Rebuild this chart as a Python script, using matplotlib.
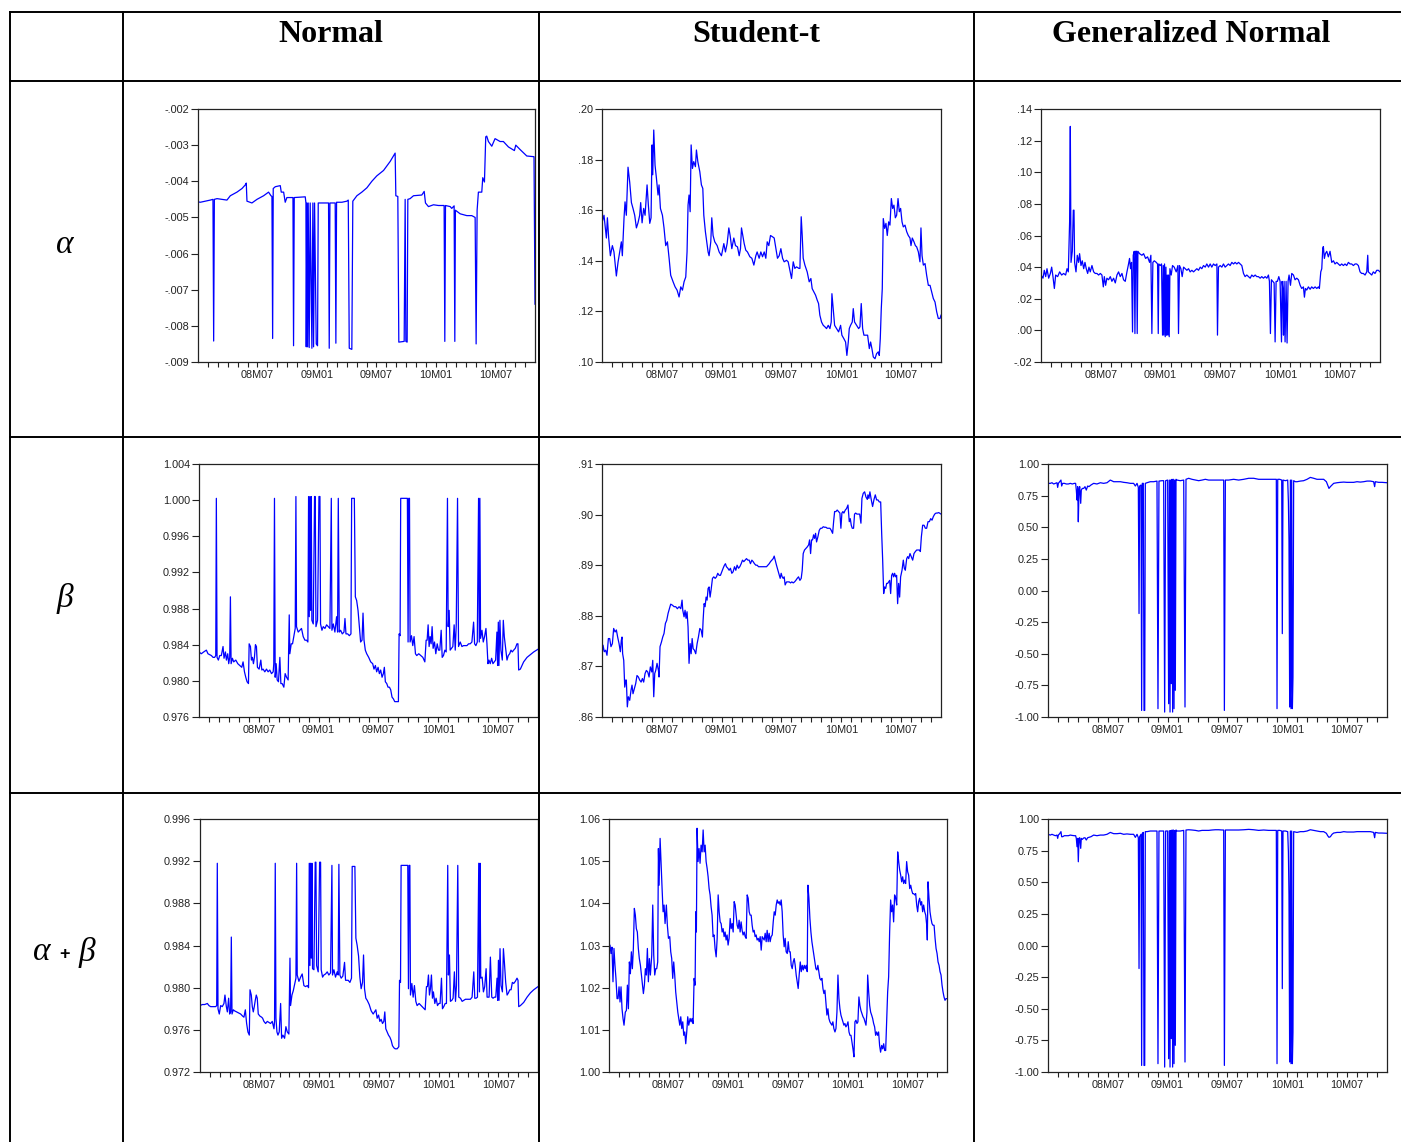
import numpy as np
import matplotlib
matplotlib.use("Agg")
import matplotlib.pyplot as plt
from matplotlib.lines import Line2D
from matplotlib.ticker import FixedLocator

plt.rcParams["font.family"] = ["Liberation Sans", "DejaVu Sans"]

# time axis: months since 2008M01 (tick labels at 08M07, 09M01, ...)
month_ticks = [6, 12, 18, 24, 30]
month_labels = ["08M07", "09M01", "09M07", "10M01", "10M07"]
col_titles = ["Normal", "Student-t", "Generalized Normal"]
row_titles = ["\u03b1", "\u03b2", "\u03b1 + \u03b2"]

# ---- Normal: alpha
norm_a_t = [0.00, 0.24, 0.74, 1.24, 1.51, 1.58, 1.65, 1.92, 2.42, 2.92,
            3.26, 3.93, 4.44, 4.77, 4.87, 4.94, 5.44, 5.95, 6.62, 7.12,
            7.36, 7.46, 7.53, 7.59, 7.80, 8.30, 8.40, 8.64, 8.80, 8.97,
            9.58, 9.64, 9.71, 10.82, 10.89, 10.92, 10.99, 11.06, 11.12, 11.22,
            11.32, 11.49, 11.59, 11.66, 11.76, 11.93, 12.06, 12.13, 13.17, 13.24,
            13.31, 13.84, 13.91, 13.98, 14.52, 15.02, 15.16, 15.26, 15.52, 15.62,
            16.03, 16.53, 17.04, 17.54, 18.04, 18.72, 19.39, 19.89, 19.96, 20.16,
            20.26, 20.80, 20.90, 20.97, 21.10, 21.17, 21.40, 21.74, 22.58, 22.82,
            22.95, 23.25, 23.76, 24.26, 24.83, 24.90, 24.97, 25.44, 25.60, 25.84,
            25.91, 25.97, 26.45, 27.12, 27.62, 27.96, 28.06, 28.16, 28.29, 28.63,
            28.73, 28.90, 29.03, 29.13, 29.30, 29.64, 29.97, 30.48, 30.81, 31.32,
            31.92, 32.06, 32.49, 33.17, 33.90, 34.00]
norm_a_v = [-.00457, -.00458, -.00455, -.00452, -.00450, -.00842, -.00450, -.00448, -.00450, -.00452,
            -.00440, -.00430, -.00420, -.00410, -.00405, -.00455, -.00460, -.00450, -.00440, -.00430,
            -.00440, -.00442, -.00835, -.00420, -.00415, -.00412, -.00430, -.00430, -.00458, -.00445,
            -.00445, -.00855, -.00445, -.00443, -.00460, -.00858, -.00460, -.00858, -.00460, -.00860,
            -.00460, -.00862, -.00460, -.00858, -.00460, -.00850, -.00855, -.00460, -.00460, -.00862,
            -.00460, -.00460, -.00848, -.00458, -.00458, -.00455, -.00452, -.00862, -.00865, -.00455,
            -.00440, -.00430, -.00418, -.00400, -.00385, -.00370, -.00345, -.00322, -.00440, -.00442,
            -.00845, -.00843, -.00450, -.00843, -.00845, -.00450, -.00448, -.00440, -.00438, -.00428,
            -.00460, -.00470, -.00465, -.00467, -.00467, -.00843, -.00467, -.00470, -.00475, -.00468,
            -.00843, -.00480, -.00490, -.00495, -.00495, -.00500, -.00850, -.00480, -.00430, -.00430,
            -.00390, -.00402, -.00277, -.00275, -.00290, -.00303, -.00282, -.00290, -.00290, -.00305,
            -.00315, -.00300, -.00312, -.00330, -.00332, -.00740]
norm_a_labels = ["-.009", "-.008", "-.007", "-.006", "-.005", "-.004", "-.003", "-.002"]

# ---- Student-t: alpha
stu_a_t = [0.00, 0.20, 0.33, 0.44, 0.54, 0.67, 0.84, 1.04, 1.20, 1.44,
           1.61, 1.77, 1.94, 2.04, 2.21, 2.31, 2.44, 2.61, 2.78, 2.95,
           3.11, 3.28, 3.45, 3.61, 3.78, 3.88, 4.02, 4.18, 4.32, 4.52,
           4.65, 4.79, 4.92, 5.02, 5.09, 5.19, 5.32, 5.46, 5.62, 5.72,
           5.86, 6.06, 6.22, 6.39, 6.56, 6.73, 6.89, 7.13, 7.33, 7.53,
           7.73, 7.90, 8.07, 8.23, 8.40, 8.53, 8.63, 8.73, 8.84, 8.94,
           9.07, 9.20, 9.37, 9.47, 9.61, 9.81, 9.97, 10.11, 10.21, 10.37,
           10.51, 10.64, 10.74, 10.91, 11.01, 11.14, 11.31, 11.55, 11.75, 11.98,
           12.22, 12.38, 12.55, 12.72, 12.85, 13.02, 13.22, 13.39, 13.59, 13.76,
           13.89, 13.99, 14.12, 14.26, 14.42, 14.59, 14.83, 15.03, 15.23, 15.43,
           15.56, 15.76, 15.93, 16.10, 16.27, 16.43, 16.57, 16.73, 16.90, 17.10,
           17.27, 17.44, 17.60, 17.77, 17.94, 18.11, 18.27, 18.51, 18.67, 18.84,
           19.01, 19.18, 19.34, 19.51, 19.75, 19.85, 19.98, 20.08, 20.18, 20.35,
           20.58, 20.78, 20.95, 21.08, 21.25, 21.42, 21.59, 21.72, 21.85, 22.02,
           22.19, 22.36, 22.52, 22.69, 22.86, 22.99, 23.06, 23.19, 23.33, 23.53,
           23.73, 23.93, 24.06, 24.26, 24.43, 24.56, 24.70, 24.80, 24.93, 25.10,
           25.20, 25.33, 25.54, 25.74, 25.87, 26.00, 26.14, 26.27, 26.47, 26.64,
           26.81, 26.94, 27.07, 27.21, 27.38, 27.54, 27.71, 27.81, 27.91, 28.01,
           28.11, 28.21, 28.35, 28.48, 28.61, 28.75, 28.88, 29.02, 29.15, 29.28,
           29.42, 29.55, 29.69, 29.82, 29.95, 30.09, 30.22, 30.39, 30.56, 30.72,
           30.89, 30.99, 31.12, 31.29, 31.43, 31.56, 31.73, 31.89, 31.99, 32.10,
           32.23, 32.40, 32.56, 32.73, 32.90, 33.07, 33.23, 33.40, 33.57, 33.73,
           33.90, 34.00]
stu_a_v = [.155, .158, .153, .149, .157, .149, .142, .146, .1435, .134,
           .1395, .1435, .1475, .142, .157, .1633, .158, .177, .171, .163,
           .1607, .158, .153, .155, .158, .163, .155, .1607, .158, .170,
           .162, .1548, .157, .1858, .174, .1917, .1778, .1726, .166, .170,
           .1607, .158, .153, .146, .1475, .141, .1343, .1317, .1297, .1284,
           .1257, .1297, .1284, .1317, .1336, .1435, .162, .166, .1594, .1858,
           .1765, .1792, .1772, .1838, .1792, .1752, .170, .1686, .158, .1515,
           .1475, .1435, .142, .1475, .157, .150, .1475, .146, .1435, .142,
           .1468, .1435, .1468, .153, .150, .1448, .149, .146, .1455, .142,
           .1448, .153, .150, .1468, .1442, .1435, .1416, .141, .1383, .142,
           .1435, .141, .1435, .1416, .1435, .141, .1475, .146, .150, .1495,
           .149, .1448, .141, .142, .1448, .141, .1396, .1402, .1396, .1363,
           .133, .1396, .137, .1376, .137, .137, .1574, .150, .141, .1383,
           .1356, .1317, .133, .129, .1277, .1264, .1244, .1231, .1185, .1158,
           .1145, .1139, .1132, .1145, .1132, .1158, .127, .1211, .1145, .1132,
           .1119, .1145, .1106, .1092, .1079, .1026, .1079, .1132, .1145, .1158,
           .1211, .1158, .1145, .1132, .1139, .1231, .1132, .1106, .1106, .1106,
           .1053, .1079, .1053, .102, .1013, .1033, .104, .1026, .1092, .1211,
           .129, .1567, .1528, .1548, .150, .1554, .1541, .1646, .1607, .162,
           .157, .158, .1646, .1594, .1607, .1554, .1534, .1541, .1515, .150,
           .149, .146, .149, .1475, .146, .1455, .1435, .1396, .153, .142,
           .1383, .1389, .1343, .1303, .1303, .1277, .1251, .1237, .1198, .1172,
           .1172, .1185]
stu_a_labels = [".10", ".12", ".14", ".16", ".18", ".20"]

# ---- Generalized Normal: alpha
gn_a_t = [0.00, 0.20, 0.33, 0.47, 0.60, 0.77, 0.94, 1.07, 1.20, 1.34,
          1.47, 1.67, 1.87, 2.07, 2.27, 2.47, 2.61, 2.74, 2.87, 2.94,
          3.01, 3.14, 3.24, 3.31, 3.37, 3.51, 3.64, 3.77, 3.87, 4.01,
          4.14, 4.28, 4.41, 4.54, 4.68, 4.81, 4.94, 5.11, 5.28, 5.44,
          5.61, 5.78, 5.95, 6.11, 6.25, 6.35, 6.48, 6.61, 6.78, 6.95,
          7.11, 7.28, 7.45, 7.62, 7.78, 7.95, 8.12, 8.28, 8.45, 8.62,
          8.78, 8.88, 8.98, 9.08, 9.18, 9.25, 9.35, 9.42, 9.49, 9.59,
          9.65, 9.72, 9.89, 10.12, 10.29, 10.49, 10.69, 10.89, 11.02, 11.12,
          11.22, 11.36, 11.56, 11.69, 11.76, 11.82, 11.96, 12.09, 12.19, 12.26,
          12.32, 12.39, 12.46, 12.53, 12.59, 12.66, 12.73, 12.79, 12.86, 12.93,
          13.06, 13.19, 13.36, 13.56, 13.73, 13.79, 13.89, 14.03, 14.16, 14.30,
          14.46, 14.63, 14.80, 14.96, 15.13, 15.30, 15.46, 15.63, 15.80, 15.97,
          16.13, 16.30, 16.47, 16.63, 16.80, 16.97, 17.13, 17.30, 17.47, 17.64,
          17.70, 17.80, 17.97, 18.14, 18.30, 18.47, 18.64, 18.80, 18.97, 19.14,
          19.31, 19.47, 19.64, 19.81, 19.97, 20.14, 20.31, 20.47, 20.64, 20.81,
          20.98, 21.14, 21.31, 21.48, 21.64, 21.81, 21.98, 22.14, 22.31, 22.48,
          22.65, 22.81, 22.91, 23.01, 23.11, 23.25, 23.38, 23.48, 23.58, 23.71,
          23.85, 23.98, 24.12, 24.18, 24.25, 24.32, 24.38, 24.48, 24.58, 24.68,
          24.78, 24.88, 25.02, 25.15, 25.32, 25.48, 25.65, 25.82, 25.99, 26.15,
          26.32, 26.42, 26.52, 26.65, 26.82, 26.99, 27.15, 27.32, 27.49, 27.66,
          27.82, 27.92, 28.06, 28.16, 28.26, 28.32, 28.42, 28.52, 28.66, 28.82,
          28.99, 29.16, 29.33, 29.49, 29.66, 29.83, 29.99, 30.16, 30.33, 30.49,
          30.66, 30.83, 31.00, 31.16, 31.33, 31.50, 31.66, 31.83, 32.00, 32.16,
          32.33, 32.50, 32.67, 32.77, 32.83, 33.00, 33.17, 33.33, 33.50, 33.67,
          33.83, 34.00]
gn_a_v = [.035, .033, .038, .034, .039, .033, .036, .040, .034, .0265,
          .035, .034, .037, .035, .036, .035, .039, .037, .0687, .129,
          .043, .050, .076, .076, .043, .037, .0475, .043, .0485, .041,
          .044, .039, .043, .039, .036, .040, .037, .041, .037, .036,
          .036, .035, .036, .035, .0275, .034, .0285, .033, .032, .034,
          .031, .033, .030, .035, .037, .034, .036, .032, .031, .037,
          .042, .0455, .039, .043, -.001, .0475, .050, -.002, .050, .050,
          -.002, .050, .0485, .0475, .0485, .0455, .0465, .043, .0475, -.002,
          .043, .044, .043, .042, -.002, .042, .041, .042, -.003, .041,
          -.003, .042, -.004, .040, -.003, .035, -.003, .035, -.004, .039,
          .035, .041, .040, .037, .041, -.002, .041, .039, .034, .040,
          .039, .038, .039, .037, .038, .037, .038, .039, .038, .040,
          .039, .041, .040, .042, .040, .042, .040, .042, .041, .042,
          -.003, .040, .041, .040, .042, .040, .041, .042, .041, .043,
          .042, .043, .042, .043, .042, .041, .036, .034, .035, .034,
          .033, .035, .034, .035, .034, .034, .033, .034, .033, .034,
          .033, .035, .031, -.002, .032, .031, .030, -.0073, .031, .031,
          .034, .031, -.0073, .031, .0265, -.003, .031, -.0073, .031, -.008,
          .031, .035, .0285, .036, .035, .032, .033, .032, .0285, .0265,
          .0275, .021, .0265, .0255, .0275, .026, .0275, .0265, .0275, .0265,
          .0275, .0265, .037, .039, .052, .053, .0455, .0485, .050, .0465,
          .050, .043, .044, .042, .043, .042, .041, .042, .041, .042,
          .041, .043, .042, .042, .041, .042, .042, .041, .037, .036,
          .036, .035, .037, .0475, .037, .036, .035, .037, .036, .038,
          .038, .037]
gn_a_labels = ["-.02", ".00", ".02", ".04", ".06", ".08", ".10", ".12", ".14"]

# ---- Normal: beta and alpha + beta (same dates)
norm_b_t = [0.00, 0.23, 0.47, 0.74, 0.90, 1.07, 1.24, 1.41, 1.57, 1.68,
            1.74, 1.81, 1.94, 2.08, 2.24, 2.41, 2.51, 2.65, 2.75, 2.88,
            2.98, 3.08, 3.15, 3.22, 3.35, 3.48, 3.69, 3.89, 4.09, 4.29,
            4.42, 4.56, 4.69, 4.82, 4.96, 5.03, 5.16, 5.26, 5.36, 5.46,
            5.56, 5.66, 5.76, 5.86, 6.03, 6.20, 6.30, 6.43, 6.60, 6.77,
            6.93, 7.10, 7.27, 7.44, 7.50, 7.57, 7.64, 7.74, 7.84, 7.97,
            8.11, 8.21, 8.34, 8.51, 8.64, 8.78, 8.94, 9.05, 9.11, 9.25,
            9.38, 9.51, 9.65, 9.72, 9.78, 9.95, 10.12, 10.28, 10.45, 10.62,
            10.79, 10.92, 10.99, 11.06, 11.12, 11.19, 11.26, 11.32, 11.46, 11.59,
            11.66, 11.73, 11.89, 12.03, 12.13, 12.19, 12.33, 12.46, 12.63, 12.80,
            12.96, 13.13, 13.27, 13.33, 13.47, 13.63, 13.80, 13.90, 13.97, 14.07,
            14.20, 14.37, 14.54, 14.64, 14.74, 14.91, 15.08, 15.24, 15.31, 15.58,
            15.68, 15.81, 15.95, 16.08, 16.21, 16.35, 16.45, 16.55, 16.68, 16.82,
            17.02, 17.22, 17.42, 17.55, 17.69, 17.82, 17.96, 18.09, 18.22, 18.36,
            18.49, 18.59, 18.69, 18.83, 18.96, 19.10, 19.23, 19.36, 19.50, 19.63,
            19.83, 20.00, 20.07, 20.17, 20.23, 20.90, 20.97, 21.04, 21.11, 21.17,
            21.31, 21.44, 21.57, 21.71, 21.84, 22.04, 22.24, 22.45, 22.65, 22.78,
            22.88, 22.98, 23.08, 23.18, 23.28, 23.38, 23.48, 23.62, 23.75, 23.89,
            24.02, 24.15, 24.29, 24.39, 24.52, 24.66, 24.79, 24.92, 24.99, 25.09,
            25.19, 25.33, 25.46, 25.59, 25.70, 25.80, 25.93, 26.03, 26.20, 26.37,
            26.53, 26.70, 26.87, 27.04, 27.20, 27.37, 27.54, 27.64, 27.77, 27.91,
            28.04, 28.11, 28.17, 28.24, 28.38, 28.51, 28.64, 28.78, 28.88, 28.98,
            29.08, 29.21, 29.35, 29.48, 29.61, 29.75, 29.88, 29.95, 30.02, 30.08,
            30.18, 30.28, 30.42, 30.52, 30.62, 30.75, 30.89, 31.02, 31.16, 31.29,
            31.42, 31.56, 31.72, 31.89, 31.99, 32.06, 32.23, 32.56, 32.90, 33.23,
            33.57, 34.00]
norm_b_v = [.9832, .9830, .9832, .9834, .9830, .9829, .9828, .9826, .9826, .9828,
            1.0002, .9826, .9823, .9828, .9828, .9838, .9825, .9832, .9823, .9830,
            .9819, .9826, .9893, .9819, .9825, .9821, .9823, .9819, .9817, .9815,
            .9821, .9810, .9804, .9799, .9797, .9841, .9838, .9823, .9826, .9819,
            .9826, .9840, .9838, .9815, .9813, .9823, .9812, .9813, .9810, .9813,
            .9810, .9812, .9808, .9810, .9819, 1.0002, .9804, .9819, .9801, .9799,
            .9826, .9797, .9797, .9793, .9808, .9804, .9801, .9873, .9830, .9841,
            .9841, .9849, .9858, 1.0004, .9860, .9854, .9856, .9858, .9849, .9845,
            .9845, .9843, 1.0004, .9871, 1.0004, .9878, 1.0004, .9867, .9863, 1.0004,
            1.0004, .9860, .9867, 1.0004, 1.0004, .9863, .9856, .9860, .9858, .9862,
            .9860, .9858, 1.0002, .9856, .9863, .9854, .9871, .9854, 1.0002, .9854,
            .9856, .9852, .9854, .9869, .9852, .9852, .9850, .9852, 1.0002, 1.0002,
            .9893, .9889, .9878, .9860, .9843, .9845, .9875, .9845, .9834, .9830,
            .9826, .9821, .9819, .9813, .9817, .9810, .9815, .9808, .9812, .9804,
            .9808, .9815, .9799, .9797, .9793, .9793, .9790, .9782, .9780, .9777,
            .9777, .9777, .9852, .9850, 1.0002, 1.0002, .9843, 1.0002, 1.0002, .9843,
            .9850, .9839, .9849, .9830, .9828, .9830, .9828, .9826, .9821, .9845,
            .9845, .9862, .9838, .9849, .9841, .9860, .9836, .9843, .9830, .9841,
            .9834, .9834, .9856, .9826, .9828, .9834, .9832, 1.0002, .9860, .9878,
            .9834, .9836, .9838, .9862, .9834, .9862, 1.0002, .9838, .9843, .9838,
            .9839, .9839, .9839, .9841, .9841, .9843, .9865, .9841, .9839, .9843,
            1.0002, .9843, 1.0002, .9847, .9856, .9843, .9849, .9858, .9841, .9819,
            .9823, .9819, .9825, .9819, .9821, .9823, .9854, .9817, .9865, .9817,
            .9867, .9834, .9823, .9867, .9849, .9836, .9823, .9828, .9830, .9834,
            .9832, .9834, .9836, .9841, .9841, .9812, .9813, .9821, .9826, .9829,
            .9832, .9835]
norm_ab_v = [.9783, .9784, .9784, .9785, .9783, .9782, .9782, .9782, .9782, .9783,
             .9918, .9780, .9775, .9783, .9782, .9785, .9793, .9782, .9777, .9790,
             .9775, .9777, .9848, .9775, .9779, .9778, .9777, .9776, .9775, .9773,
             .9772, .9779, .9766, .9758, .9755, .9798, .9793, .9782, .9777, .9782,
             .9788, .9793, .9790, .9775, .9773, .9772, .9771, .9768, .9766, .9768,
             .9767, .9766, .9768, .9761, .9768, .9918, .9771, .9758, .9755, .9758,
             .9785, .9752, .9755, .9752, .9763, .9758, .9756, .9828, .9783, .9793,
             .9797, .9803, .9809, .9918, .9812, .9806, .9810, .9813, .9802, .9801,
             .9802, .9800, .9918, .9821, .9918, .9828, .9918, .9818, .9817, .9919,
             .9919, .9821, .9815, .9919, .9919, .9817, .9810, .9812, .9813, .9815,
             .9812, .9814, .9916, .9812, .9817, .9810, .9815, .9812, .9917, .9812,
             .9809, .9811, .9824, .9807, .9807, .9807, .9805, .9809, .9915, .9915,
             .9847, .9840, .9830, .9810, .9799, .9805, .9831, .9799, .9790, .9788,
             .9784, .9778, .9775, .9777, .9779, .9771, .9774, .9768, .9770, .9766,
             .9768, .9777, .9761, .9758, .9755, .9753, .9750, .9745, .9743, .9742,
             .9742, .9744, .9807, .9805, .9916, .9916, .9799, .9916, .9916, .9793,
             .9804, .9791, .9802, .9787, .9783, .9785, .9783, .9781, .9779, .9801,
             .9801, .9812, .9793, .9799, .9812, .9790, .9796, .9785, .9790, .9783,
             .9785, .9785, .9809, .9780, .9782, .9785, .9785, .9916, .9812, .9831,
             .9787, .9788, .9790, .9815, .9787, .9802, .9916, .9791, .9790, .9787,
             .9788, .9789, .9789, .9789, .9789, .9791, .9815, .9790, .9790, .9791,
             .9918, .9796, .9918, .9809, .9810, .9796, .9801, .9818, .9791, .9791,
             .9791, .9829, .9791, .9790, .9791, .9791, .9809, .9788, .9826, .9788,
             .9837, .9802, .9796, .9837, .9824, .9805, .9793, .9795, .9798, .9798,
             .9805, .9804, .9806, .9809, .9807, .9782, .9783, .9786, .9791, .9795,
             .9798, .9801]
norm_b_labels = ["0.976", "0.980", "0.984", "0.988", "0.992", "0.996", "1.000", "1.004"]
norm_ab_labels = ["0.972", "0.976", "0.980", "0.984", "0.988", "0.992", "0.996"]

# ---- Student-t: beta
stu_b_t = [0.00, 0.10, 0.23, 0.37, 0.50, 0.64, 0.77, 0.90, 1.04, 1.17,
           1.31, 1.44, 1.57, 1.71, 1.84, 1.94, 2.01, 2.07, 2.18, 2.28,
           2.38, 2.44, 2.54, 2.64, 2.78, 2.91, 3.01, 3.11, 3.25, 3.38,
           3.51, 3.65, 3.78, 3.92, 4.05, 4.18, 4.32, 4.45, 4.59, 4.72,
           4.85, 4.99, 5.09, 5.19, 5.29, 5.39, 5.52, 5.66, 5.72, 5.82,
           5.96, 6.09, 6.22, 6.36, 6.49, 6.63, 6.76, 6.89, 7.06, 7.23,
           7.40, 7.56, 7.73, 7.90, 8.03, 8.10, 8.23, 8.33, 8.43, 8.53,
           8.63, 8.73, 8.84, 8.94, 9.04, 9.14, 9.27, 9.40, 9.54, 9.67,
           9.81, 9.94, 10.07, 10.14, 10.24, 10.34, 10.44, 10.54, 10.64, 10.74,
           10.84, 10.94, 11.08, 11.21, 11.35, 11.48, 11.61, 11.75, 11.88, 12.01,
           12.15, 12.28, 12.38, 12.48, 12.62, 12.75, 12.88, 13.02, 13.15, 13.29,
           13.42, 13.55, 13.69, 13.82, 13.96, 14.09, 14.22, 14.36, 14.49, 14.63,
           14.76, 14.89, 15.03, 15.16, 15.29, 15.43, 15.56, 15.70, 15.83, 15.96,
           16.10, 16.23, 16.37, 16.50, 16.63, 16.77, 16.90, 17.04, 17.17, 17.27,
           17.37, 17.50, 17.64, 17.77, 17.87, 17.97, 18.07, 18.17, 18.27, 18.37,
           18.51, 18.64, 18.78, 18.91, 19.04, 19.18, 19.31, 19.44, 19.58, 19.71,
           19.85, 19.98, 20.08, 20.18, 20.31, 20.45, 20.58, 20.72, 20.82, 20.92,
           21.02, 21.12, 21.22, 21.32, 21.42, 21.52, 21.65, 21.79, 21.92, 22.05,
           22.19, 22.32, 22.46, 22.59, 22.72, 22.86, 22.99, 23.13, 23.23, 23.33,
           23.46, 23.59, 23.73, 23.86, 23.96, 24.06, 24.16, 24.26, 24.40, 24.53,
           24.67, 24.73, 24.80, 24.90, 25.00, 25.10, 25.23, 25.33, 25.44, 25.57,
           25.70, 25.84, 25.97, 26.07, 26.20, 26.34, 26.47, 26.61, 26.67, 26.77,
           26.87, 27.01, 27.14, 27.28, 27.41, 27.54, 27.68, 27.81, 27.95, 28.05,
           28.15, 28.25, 28.35, 28.45, 28.55, 28.65, 28.75, 28.85, 28.95, 29.05,
           29.15, 29.25, 29.35, 29.45, 29.55, 29.65, 29.75, 29.85, 29.95, 30.09,
           30.22, 30.32, 30.42, 30.56, 30.66, 30.76, 30.89, 31.02, 31.16, 31.29,
           31.43, 31.56, 31.69, 31.83, 31.93, 32.03, 32.16, 32.30, 32.43, 32.56,
           32.70, 32.83, 32.97, 33.10, 33.23, 33.37, 33.50, 33.63, 33.77, 34.00]
stu_b_v = [.8719, .8742, .8729, .8732, .8722, .8755, .8755, .8739, .8745, .8775,
           .8768, .8772, .8758, .8745, .8729, .8752, .8758, .8725, .8712, .8659,
           .8673, .8673, .8620, .8640, .8633, .8653, .8663, .8646, .8656, .8666,
           .8682, .8679, .8673, .8669, .8676, .8669, .8686, .8692, .8689, .8679,
           .8699, .8689, .8712, .8640, .8686, .8692, .8706, .8692, .8679, .8739,
           .8748, .8758, .8765, .8785, .8791, .8805, .8814, .8823, .8821, .8818,
           .8818, .8814, .8818, .8814, .8831, .8811, .8798, .8811, .8795, .8808,
           .8778, .8706, .8745, .8725, .8755, .8735, .8732, .8725, .8745, .8758,
           .8775, .8772, .8758, .8791, .8824, .8818, .8837, .8831, .8854, .8857,
           .8837, .8851, .8874, .8877, .8874, .8877, .8884, .8880, .8880, .8887,
           .8894, .8900, .8903, .8897, .8894, .8890, .8894, .8884, .8887, .8897,
           .8890, .8900, .8894, .8897, .8903, .8910, .8907, .8910, .8913, .8910,
           .8910, .8903, .8910, .8907, .8903, .8900, .8900, .8897, .8897, .8897,
           .8897, .8897, .8897, .8897, .8900, .8903, .8907, .8910, .8913, .8918,
           .8910, .8900, .8890, .8880, .8874, .8884, .8877, .8874, .8877, .8861,
           .8867, .8867, .8867, .8865, .8867, .8865, .8867, .8870, .8874, .8877,
           .8870, .8874, .8890, .8923, .8930, .8933, .8936, .8940, .8950, .8923,
           .8950, .8950, .8960, .8953, .8963, .8946, .8956, .8969, .8973, .8973,
           .8976, .8975, .8975, .8973, .8973, .8973, .8969, .8963, .8986, .9006,
           .9006, .9009, .9006, .9003, .8973, .9003, .9006, .9003, .9009, .9012,
           .9019, .9003, .8986, .8992, .8979, .8973, .8973, .9001, .9003, .9001,
           .9001, .9001, .8983, .9032, .9042, .9045, .9035, .9030, .9039, .9032,
           .9045, .9029, .9016, .9030, .9039, .9029, .9029, .9025, .9025, .8963,
           .8910, .8844, .8857, .8854, .8864, .8864, .8867, .8870, .8844, .8880,
           .8884, .8877, .8884, .8877, .8880, .8824, .8864, .8837, .8877, .8890,
           .8910, .8894, .8890, .8913, .8917, .8913, .8923, .8917, .8910, .8923,
           .8927, .8930, .8930, .8930, .8927, .8956, .8979, .8979, .8973, .8973,
           .8986, .8986, .8992, .8989, .8996, .9001, .9003, .9003, .9004, .9001]
stu_b_labels = [".86", ".87", ".88", ".89", ".90", ".91"]

# ---- Student-t: alpha + beta
stu_ab_t = [0.00, 0.10, 0.20, 0.30, 0.40, 0.50, 0.60, 0.70, 0.81, 0.91,
            1.01, 1.11, 1.21, 1.31, 1.41, 1.51, 1.64, 1.75, 1.85, 1.95,
            2.05, 2.15, 2.25, 2.35, 2.45, 2.55, 2.65, 2.75, 2.85, 2.95,
            3.05, 3.16, 3.26, 3.36, 3.46, 3.56, 3.66, 3.76, 3.86, 3.96,
            4.06, 4.16, 4.30, 4.40, 4.50, 4.60, 4.70, 4.80, 4.90, 4.97,
            5.04, 5.14, 5.24, 5.34, 5.44, 5.54, 5.64, 5.77, 5.87, 5.98,
            6.11, 6.21, 6.31, 6.41, 6.51, 6.61, 6.71, 6.81, 6.92, 7.02,
            7.12, 7.22, 7.32, 7.42, 7.52, 7.62, 7.72, 7.82, 7.92, 8.02,
            8.16, 8.26, 8.36, 8.46, 8.56, 8.66, 8.73, 8.79, 8.86, 8.96,
            9.06, 9.16, 9.26, 9.37, 9.47, 9.57, 9.67, 9.77, 9.87, 9.97,
            10.07, 10.17, 10.27, 10.37, 10.47, 10.57, 10.67, 10.78, 10.88, 10.98,
            11.08, 11.18, 11.28, 11.38, 11.48, 11.58, 11.68, 11.78, 11.88, 11.98,
            12.08, 12.19, 12.29, 12.39, 12.49, 12.59, 12.69, 12.79, 12.89, 12.99,
            13.09, 13.19, 13.29, 13.39, 13.49, 13.60, 13.70, 13.80, 13.90, 14.00,
            14.10, 14.20, 14.30, 14.40, 14.50, 14.60, 14.70, 14.80, 14.90, 15.01,
            15.11, 15.21, 15.31, 15.41, 15.51, 15.61, 15.71, 15.81, 15.91, 16.01,
            16.11, 16.21, 16.31, 16.42, 16.52, 16.62, 16.72, 16.82, 16.92, 17.02,
            17.12, 17.22, 17.32, 17.42, 17.52, 17.62, 17.72, 17.82, 17.93, 18.03,
            18.13, 18.23, 18.33, 18.43, 18.53, 18.63, 18.73, 18.83, 18.93, 19.03,
            19.13, 19.24, 19.34, 19.44, 19.54, 19.64, 19.74, 19.84, 19.94, 20.01,
            20.11, 20.21, 20.31, 20.41, 20.51, 20.61, 20.71, 20.81, 20.91, 21.01,
            21.11, 21.21, 21.32, 21.42, 21.52, 21.62, 21.72, 21.82, 21.92, 22.02,
            22.12, 22.22, 22.32, 22.42, 22.52, 22.62, 22.73, 22.83, 22.93, 23.03,
            23.13, 23.23, 23.33, 23.43, 23.53, 23.63, 23.73, 23.83, 23.93, 24.04,
            24.14, 24.24, 24.34, 24.44, 24.54, 24.64, 24.74, 24.84, 24.94, 25.04,
            25.14, 25.24, 25.34, 25.45, 25.55, 25.65, 25.75, 25.85, 25.95, 26.02,
            26.12, 26.22, 26.32, 26.42, 26.52, 26.62, 26.72, 26.82, 26.92, 27.02,
            27.12, 27.22, 27.32, 27.43, 27.53, 27.63, 27.73, 27.83, 27.93, 28.03,
            28.13, 28.23, 28.33, 28.43, 28.53, 28.63, 28.73, 28.84, 28.94, 29.04,
            29.14, 29.24, 29.34, 29.44, 29.54, 29.64, 29.74, 29.84, 29.94, 30.04,
            30.14, 30.25, 30.35, 30.45, 30.55, 30.65, 30.75, 30.85, 30.95, 31.05,
            31.15, 31.25, 31.35, 31.45, 31.55, 31.65, 31.76, 31.86, 31.96, 32.02,
            32.09, 32.19, 32.29, 32.39, 32.49, 32.59, 32.70, 32.80, 32.90, 33.00,
            33.10, 33.20, 33.30, 33.40, 33.50, 33.60, 33.70, 33.80, 33.90, 34.00]
stu_ab_v = [1.0285, 1.0301, 1.0281, 1.0296, 1.0214, 1.0293, 1.0253, 1.0222, 1.0174, 1.0174,
            1.0202, 1.0166, 1.0202, 1.0150, 1.0127, 1.0111, 1.0142, 1.0146, 1.0206, 1.0150,
            1.0261, 1.0233, 1.0285, 1.0245, 1.0293, 1.0388, 1.0372, 1.0340, 1.0332, 1.0293,
            1.0269, 1.0253, 1.0230, 1.0206, 1.0186, 1.0206, 1.0245, 1.0230, 1.0293, 1.0214,
            1.0269, 1.0230, 1.0277, 1.0396, 1.0277, 1.0230, 1.0245, 1.0245, 1.0261, 1.0530,
            1.0443, 1.0554, 1.0491, 1.0435, 1.0380, 1.0396, 1.0352, 1.0396, 1.0348, 1.0317,
            1.0321, 1.0285, 1.0269, 1.0222, 1.0261, 1.0230, 1.0190, 1.0166, 1.0142, 1.0127,
            1.0111, 1.0131, 1.0103, 1.0119, 1.0087, 1.0095, 1.0067, 1.0095, 1.0131, 1.0111,
            1.0127, 1.0119, 1.0127, 1.0115, 1.0222, 1.0206, 1.0380, 1.0332, 1.0578, 1.0499,
            1.0530, 1.0495, 1.0538, 1.0522, 1.0574, 1.0522, 1.0538, 1.0499, 1.0483, 1.0463,
            1.0435, 1.0420, 1.0392, 1.0372, 1.0321, 1.0325, 1.0293, 1.0273, 1.0317, 1.0420,
            1.0380, 1.0356, 1.0352, 1.0332, 1.0340, 1.0321, 1.0332, 1.0313, 1.0325, 1.0301,
            1.0317, 1.0364, 1.0340, 1.0352, 1.0332, 1.0404, 1.0396, 1.0372, 1.0348, 1.0340,
            1.0360, 1.0332, 1.0356, 1.0336, 1.0325, 1.0332, 1.0321, 1.0317, 1.0420, 1.0412,
            1.0380, 1.0372, 1.0372, 1.0348, 1.0332, 1.0336, 1.0321, 1.0325, 1.0313, 1.0317,
            1.0309, 1.0321, 1.0289, 1.0321, 1.0317, 1.0313, 1.0329, 1.0309, 1.0336, 1.0309,
            1.0329, 1.0309, 1.0321, 1.0325, 1.0356, 1.0380, 1.0372, 1.0396, 1.0408, 1.0400,
            1.0404, 1.0396, 1.0408, 1.0380, 1.0325, 1.0297, 1.0317, 1.0285, 1.0281, 1.0309,
            1.0285, 1.0285, 1.0253, 1.0245, 1.0261, 1.0269, 1.0253, 1.0230, 1.0214, 1.0198,
            1.0230, 1.0261, 1.0238, 1.0253, 1.0242, 1.0253, 1.0245, 1.0253, 1.0238, 1.0443,
            1.0412, 1.0364, 1.0332, 1.0309, 1.0293, 1.0277, 1.0261, 1.0245, 1.0242, 1.0253,
            1.0238, 1.0222, 1.0218, 1.0222, 1.0198, 1.0186, 1.0194, 1.0166, 1.0135, 1.0150,
            1.0127, 1.0119, 1.0115, 1.0111, 1.0119, 1.0103, 1.0095, 1.0103, 1.0142, 1.0230,
            1.0174, 1.0150, 1.0135, 1.0127, 1.0119, 1.0111, 1.0115, 1.0107, 1.0111, 1.0119,
            1.0095, 1.0087, 1.0087, 1.0071, 1.0055, 1.0036, 1.0119, 1.0123, 1.0115, 1.0119,
            1.0178, 1.0158, 1.0146, 1.0138, 1.0131, 1.0127, 1.0119, 1.0111, 1.0142, 1.0230,
            1.0190, 1.0158, 1.0142, 1.0135, 1.0127, 1.0115, 1.0107, 1.0087, 1.0095, 1.0087,
            1.0095, 1.0063, 1.0047, 1.0063, 1.0055, 1.0067, 1.0051, 1.0051, 1.0119, 1.0190,
            1.0226, 1.0332, 1.0408, 1.0380, 1.0396, 1.0356, 1.0420, 1.0412, 1.0396, 1.0522,
            1.0499, 1.0479, 1.0467, 1.0451, 1.0463, 1.0447, 1.0455, 1.0447, 1.0499, 1.0475,
            1.0467, 1.0435, 1.0443, 1.0431, 1.0423, 1.0423, 1.0420, 1.0423, 1.0396, 1.0380,
            1.0404, 1.0412, 1.0396, 1.0404, 1.0380, 1.0396, 1.0380, 1.0372, 1.0348, 1.0313,
            1.0451, 1.0412, 1.0380, 1.0364, 1.0352, 1.0348, 1.0348, 1.0317, 1.0293, 1.0281,
            1.0261, 1.0253, 1.0238, 1.0230, 1.0206, 1.0190, 1.0178, 1.0170, 1.0174, 1.0174]
stu_ab_labels = ["1.00", "1.01", "1.02", "1.03", "1.04", "1.05", "1.06"]

# ---- Generalized Normal: beta and alpha + beta (same dates)
gn_b_t = [0.00, 0.23, 0.40, 0.57, 0.74, 0.90, 0.97, 1.04, 1.17, 1.30,
          1.37, 1.47, 1.64, 1.84, 2.04, 2.24, 2.44, 2.64, 2.77, 2.84,
          2.91, 2.98, 3.04, 3.11, 3.18, 3.28, 3.34, 3.44, 3.58, 3.71,
          3.84, 3.98, 4.11, 4.31, 4.58, 4.91, 5.25, 5.58, 5.92, 6.25,
          6.59, 6.92, 7.26, 7.59, 7.92, 8.26, 8.59, 8.76, 8.93, 9.06,
          9.13, 9.19, 9.33, 9.39, 9.46, 9.56, 9.63, 9.70, 9.76, 9.93,
          10.26, 10.60, 10.93, 11.03, 11.13, 11.43, 11.60, 11.70, 11.80, 12.00,
          12.10, 12.17, 12.24, 12.30, 12.37, 12.44, 12.50, 12.57, 12.64, 12.70,
          12.77, 12.84, 12.94, 13.27, 13.61, 13.74, 13.84, 14.11, 14.44, 14.78,
          15.11, 15.45, 15.78, 16.11, 16.45, 16.78, 17.12, 17.45, 17.62, 17.69,
          17.79, 18.12, 18.62, 19.12, 19.63, 20.13, 20.63, 21.13, 21.63, 22.13,
          22.63, 22.90, 22.97, 23.04, 23.24, 23.44, 23.50, 23.57, 23.81, 24.04,
          24.11, 24.17, 24.24, 24.31, 24.37, 24.44, 24.51, 24.57, 24.64, 24.81,
          24.97, 25.31, 25.64, 25.98, 26.31, 26.65, 26.98, 27.32, 27.65, 27.92,
          28.05, 28.18, 28.32, 28.49, 28.65, 28.99, 29.32, 29.66, 29.99, 30.32,
          30.66, 30.99, 31.33, 31.66, 32.00, 32.33, 32.66, 32.76, 32.83, 33.16,
          33.50, 34.00]
gn_b_v = [.847, .847, .852, .842, .847, .852, .815, .847, .860, .873,
          .826, .847, .847, .842, .842, .847, .842, .847, .847, .794,
          .715, .821, .543, .794, .821, .689, .794, .807, .807, .821,
          .794, .826, .821, .834, .847, .842, .852, .847, .852, .873,
          .860, .860, .860, .855, .852, .847, .847, .826, .847, .815,
          -.182, .826, .834, -.948, .847, .847, -.948, -.948, .847, .852,
          .860, .860, .865, -.934, .865, .868, .868, -.961, .868, .873,
          -.895, .873, -.961, .873, -.736, .879, -.961, .879, -.934, .873,
          -.789, .879, .873, .868, .873, -.921, .879, .887, .879, .873,
          .868, .873, .879, .873, .873, .873, .873, .873, .873, -.948,
          .873, .873, .879, .873, .879, .887, .887, .879, .879, .879,
          .879, .879, -.934, .879, .879, .873, -.341, .873, .868, .873,
          .702, .398, -.921, .873, -.934, .873, -.934, -.684, .868, .860,
          .860, .865, .868, .879, .894, .887, .879, .879, .879, .860,
          .834, .807, .821, .834, .847, .852, .855, .857, .855, .855,
          .855, .860, .857, .860, .865, .865, .860, .821, .860, .855,
          .855, .852]
gn_ab_v = [.879, .873, .879, .873, .868, .873, .847, .873, .884, .900,
           .860, .860, .868, .868, .868, .873, .870, .868, .868, .847,
           .781, .847, .662, .847, .852, .768, .847, .839, .850, .852,
           .834, .852, .855, .860, .873, .868, .873, .873, .879, .894,
           .884, .884, .887, .879, .882, .879, .879, .855, .879, .852,
           -.182, .860, .879, -.948, .887, .894, -.948, -.948, .900, .900,
           .905, .905, .905, -.934, .905, .905, .905, -.961, .905, .905,
           -.895, .908, -.961, .908, -.736, .913, -.961, .913, -.934, .908,
           -.789, .913, .905, .905, .910, -.921, .913, .915, .913, .910,
           .905, .910, .910, .910, .913, .915, .915, .913, .913, -.948,
           .913, .913, .913, .913, .915, .918, .915, .910, .913, .910,
           .910, .910, -.934, .910, .910, .905, -.341, .905, .905, .900,
           .741, .398, -.921, .905, -.934, .905, -.934, -.684, .900, .897,
           .894, .900, .900, .905, .915, .910, .905, .900, .900, .887,
           .868, .855, .860, .879, .889, .894, .894, .900, .897, .897,
           .897, .900, .900, .900, .900, .900, .894, .852, .894, .889,
           .889, .887]
gn_b_labels = ["-1.00", "-0.75", "-0.50", "-0.25", "0.00", "0.25", "0.50", "0.75", "1.00"]

W, H = 1401, 1142
fig = plt.figure(figsize=(W / 100, H / 100), dpi=100)
fig.patch.set_facecolor("white")
serif = ["Liberation Serif", "DejaVu Serif"]


def fig_line(x0, y0, x1, y1):
    # table rule in pixel coordinates (origin top-left)
    fig.add_artist(Line2D([x0 / W, x1 / W], [1 - y0 / H, 1 - y1 / H],
                          transform=fig.transFigure, color="black", lw=1.4))


for x in [10, 123, 539, 974]:
    fig_line(x, 12, x, H)
for y in [12, 81, 437, 793]:
    fig_line(10, y, W, y)

for cx, title in zip([331, 756, 1191], col_titles):
    fig.text(cx / W, 1 - 35 / H, title, ha="center", va="center",
             family=serif, weight="bold", fontsize=23)

# row labels; the "+" in the last one is small and set apart
for cy, title in zip([245, 598], row_titles[:2]):
    fig.text(65 / W, 1 - cy / H, title, ha="center", va="center",
             family=serif, style="italic", fontsize=24)
a_part, plus_part, b_part = row_titles[2].split(" ")
fig.text(42 / W, 1 - 952 / H, a_part, ha="center", va="center",
         family=serif, style="italic", fontsize=24)
fig.text(65 / W, 1 - 954 / H, plus_part, ha="center", va="center",
         family=["Liberation Sans", "DejaVu Sans"], weight="bold", fontsize=13)
fig.text(87 / W, 1 - 952 / H, b_part, ha="center", va="center",
         family=serif, style="italic", fontsize=24)


def draw_panel(box, t, v, labels):
    x0, y0, x1, y1 = box
    ax = fig.add_axes([x0 / W, 1 - y1 / H, (x1 - x0) / W, (y1 - y0) / H])
    ax.plot(t, v, color="#0000ff", lw=0.9)
    ticks = [float(s) for s in labels]
    ax.set_ylim(min(ticks), max(ticks))
    ax.set_yticks(ticks)
    ax.set_yticklabels(labels)
    ax.set_xlim(0, 34)
    ax.set_xticks(month_ticks)
    ax.set_xticklabels(month_labels)
    ax.xaxis.set_minor_locator(FixedLocator(np.arange(1, 34)))
    ax.tick_params(axis="both", which="both", direction="out", labelsize=7.8,
                   colors="#222222", width=0.8)
    ax.tick_params(axis="y", length=5, pad=1.5)
    ax.tick_params(axis="x", which="both", length=3.5, pad=2)
    for sp in ax.spines.values():
        sp.set_linewidth(0.9)
        sp.set_color("#222222")
    return ax


panels = [
    ((198, 109, 535, 362), norm_a_t, norm_a_v, norm_a_labels),
    ((602, 109, 941, 362), stu_a_t, stu_a_v, stu_a_labels),
    ((1041, 109, 1380, 362), gn_a_t, gn_a_v, gn_a_labels),
    ((199, 464, 538, 717), norm_b_t, norm_b_v, norm_b_labels),
    ((602, 464, 941, 717), stu_b_t, stu_b_v, stu_b_labels),
    ((1048, 464, 1387, 717), gn_b_t, gn_b_v, gn_b_labels),
    ((200, 819, 538, 1072), norm_b_t, norm_ab_v, norm_ab_labels),
    ((609, 819, 947, 1072), stu_ab_t, stu_ab_v, stu_ab_labels),
    ((1048, 819, 1387, 1072), gn_b_t, gn_ab_v, gn_b_labels),
]
for box, t, v, labels in panels:
    draw_panel(box, t, v, labels)

fig.savefig("out.png", dpi=100, facecolor="white")
